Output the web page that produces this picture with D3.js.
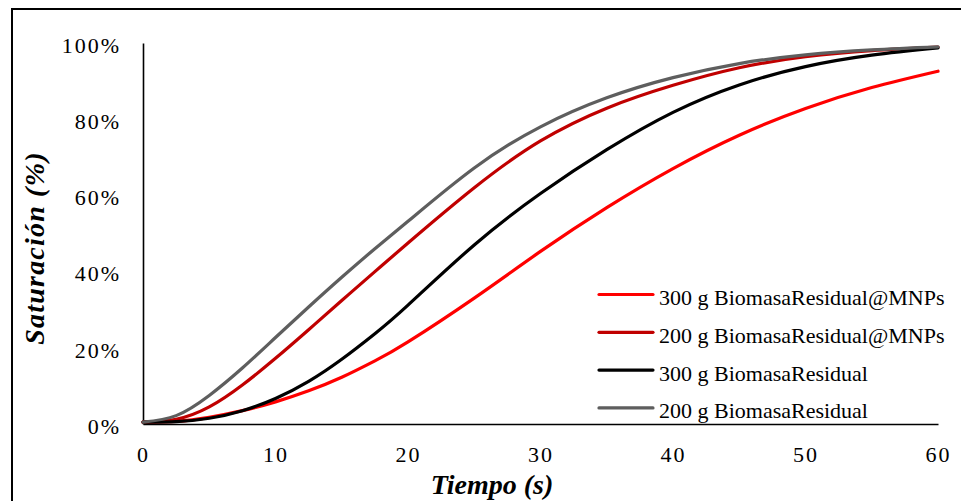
<!DOCTYPE html>
<html>
<head>
<meta charset="utf-8">
<script src="https://cdn.jsdelivr.net/npm/d3@7"></script>
<style>
  body { margin: 0; background: #fff; }
  svg { display: block; }
</style>
</head>
<body>
<div id="chart"></div>
<script>
// Values (percent saturation vs time in s)
var tiempo = [0, 2.5, 5, 7.5, 10, 12.5, 15, 17.5, 20, 25, 30, 35, 40, 45, 50, 55, 60];

var mnp300 = [0.5, 0.7, 1.75, 3.5, 5.8, 8.7, 12.25, 16.55, 21.55, 33.05, 45.3, 56.8, 67.05, 75.8, 82.8, 88.3, 92.6];
var mnp200 = [0.5, 1.25, 4.5, 10.25, 17.25, 24.75, 32.4, 40, 47.5, 62, 74.3, 82.9, 88.9, 93.5, 96.4, 98.0, 98.9];
var br300  = [0.5, 0.6, 1.5, 3.5, 6.7, 11.2, 17, 23.7, 31.2, 47, 60.5, 72, 81.8, 89.0, 93.8, 96.8, 98.7];
var br200  = [0.5, 2.2, 7.5, 14.7, 22.7, 30.7, 38.5, 46, 53.2, 67.2, 78, 85.6, 90.9, 94.6, 96.9, 98.2, 99.0];

var seriesNames = ["300 g BiomasaResidual@MNPs", "200 g BiomasaResidual@MNPs",
                   "300 g BiomasaResidual", "200 g BiomasaResidual"];
var seriesColors = ["#ff0000", "#c00000", "#000000", "#5e5e5e"];
var seriesValues = [mnp300, mnp200, br300, br200];

var xTicks = [0, 10, 20, 30, 40, 50, 60];
var yTicks = [0, 20, 40, 60, 80, 100];

var W = 961, H = 501;
var margin = {top: 43, right: 23, bottom: 77, left: 143},
    width = W - margin.left - margin.right,
    height = H - margin.top - margin.bottom;

var font = "'Liberation Serif', 'Times New Roman', serif";

var svgRoot = d3.select("#chart")
  .append("svg")
  .attr("width", W)
  .attr("height", H);

// outer frame (runs off the right and bottom of the picture)
svgRoot.append("rect")
  .attr("x", 12).attr("y", 9)
  .attr("width", 1000).attr("height", 600)
  .attr("fill", "none")
  .attr("stroke", "#000")
  .attr("stroke-width", 2);

var svg = svgRoot.append("g")
  .attr("transform", "translate(" + margin.left + "," + margin.top + ")");

var x = d3.scaleLinear().domain([0, 60]).range([0, width]);
var y = d3.scaleLinear().domain([0, 100]).range([height, 0]);

// Axes
var xAxis = svg.append("g")
  .attr("transform", "translate(0," + height + ")")
  .call(d3.axisBottom(x).tickValues(xTicks).tickSize(0).tickPadding(22));

var yAxis = svg.append("g")
  .call(d3.axisLeft(y).tickValues(yTicks).tickSize(0).tickPadding(22)
    .tickFormat(function(d) { return d + "%"; }));

[xAxis, yAxis].forEach(function(a) {
  a.select(".domain").attr("stroke", "#000").attr("stroke-width", 1.6);
  a.selectAll("text")
    .style("font-family", font)
    .style("font-size", "22px")
    .style("letter-spacing", "2px")
    .attr("fill", "#000");
});
yAxis.selectAll("text").attr("dy", "0.42em");
xAxis.selectAll("text").attr("dy", "0.71em");

// Lines
var line = d3.line()
  .x(function(d) { return x(d[0]); })
  .y(function(d) { return y(d[1]); })
  .curve(d3.curveNatural);

seriesValues.forEach(function(vals, i) {
  var pts = tiempo.map(function(t, j) { return [t, vals[j]]; });
  svg.append("path")
    .datum(pts)
    .attr("fill", "none")
    .attr("stroke", seriesColors[i])
    .attr("stroke-width", 3.2)
    .attr("stroke-linecap", "round")
    .attr("d", line);
});

// Axis titles
svgRoot.append("text")
  .attr("x", 492).attr("y", 494)
  .attr("text-anchor", "middle")
  .style("font-family", font)
  .style("font-size", "28px")
  .style("font-weight", "bold")
  .style("font-style", "italic")
  .text("Tiempo (s)");

svgRoot.append("text")
  .attr("transform", "translate(44,248) rotate(-90)")
  .attr("text-anchor", "middle")
  .style("font-family", font)
  .style("font-size", "28px")
  .style("font-weight", "bold")
  .style("font-style", "italic")
  .style("letter-spacing", "1.2px")
  .text("Saturación (%)");

// Legend
var legend = svgRoot.append("g");
seriesNames.forEach(function(name, i) {
  var ly = 294.5 + i * 37.8;
  legend.append("line")
    .attr("x1", 599).attr("x2", 653)
    .attr("y1", ly).attr("y2", ly)
    .attr("stroke", seriesColors[i])
    .attr("stroke-width", 3.2)
    .attr("stroke-linecap", "round");
  legend.append("text")
    .attr("x", 659).attr("y", ly + 10.5)
    .style("font-family", font)
    .style("font-size", "22px")
    .attr("fill", "#000")
    .text(name);
});
</script>
</body>
</html>
